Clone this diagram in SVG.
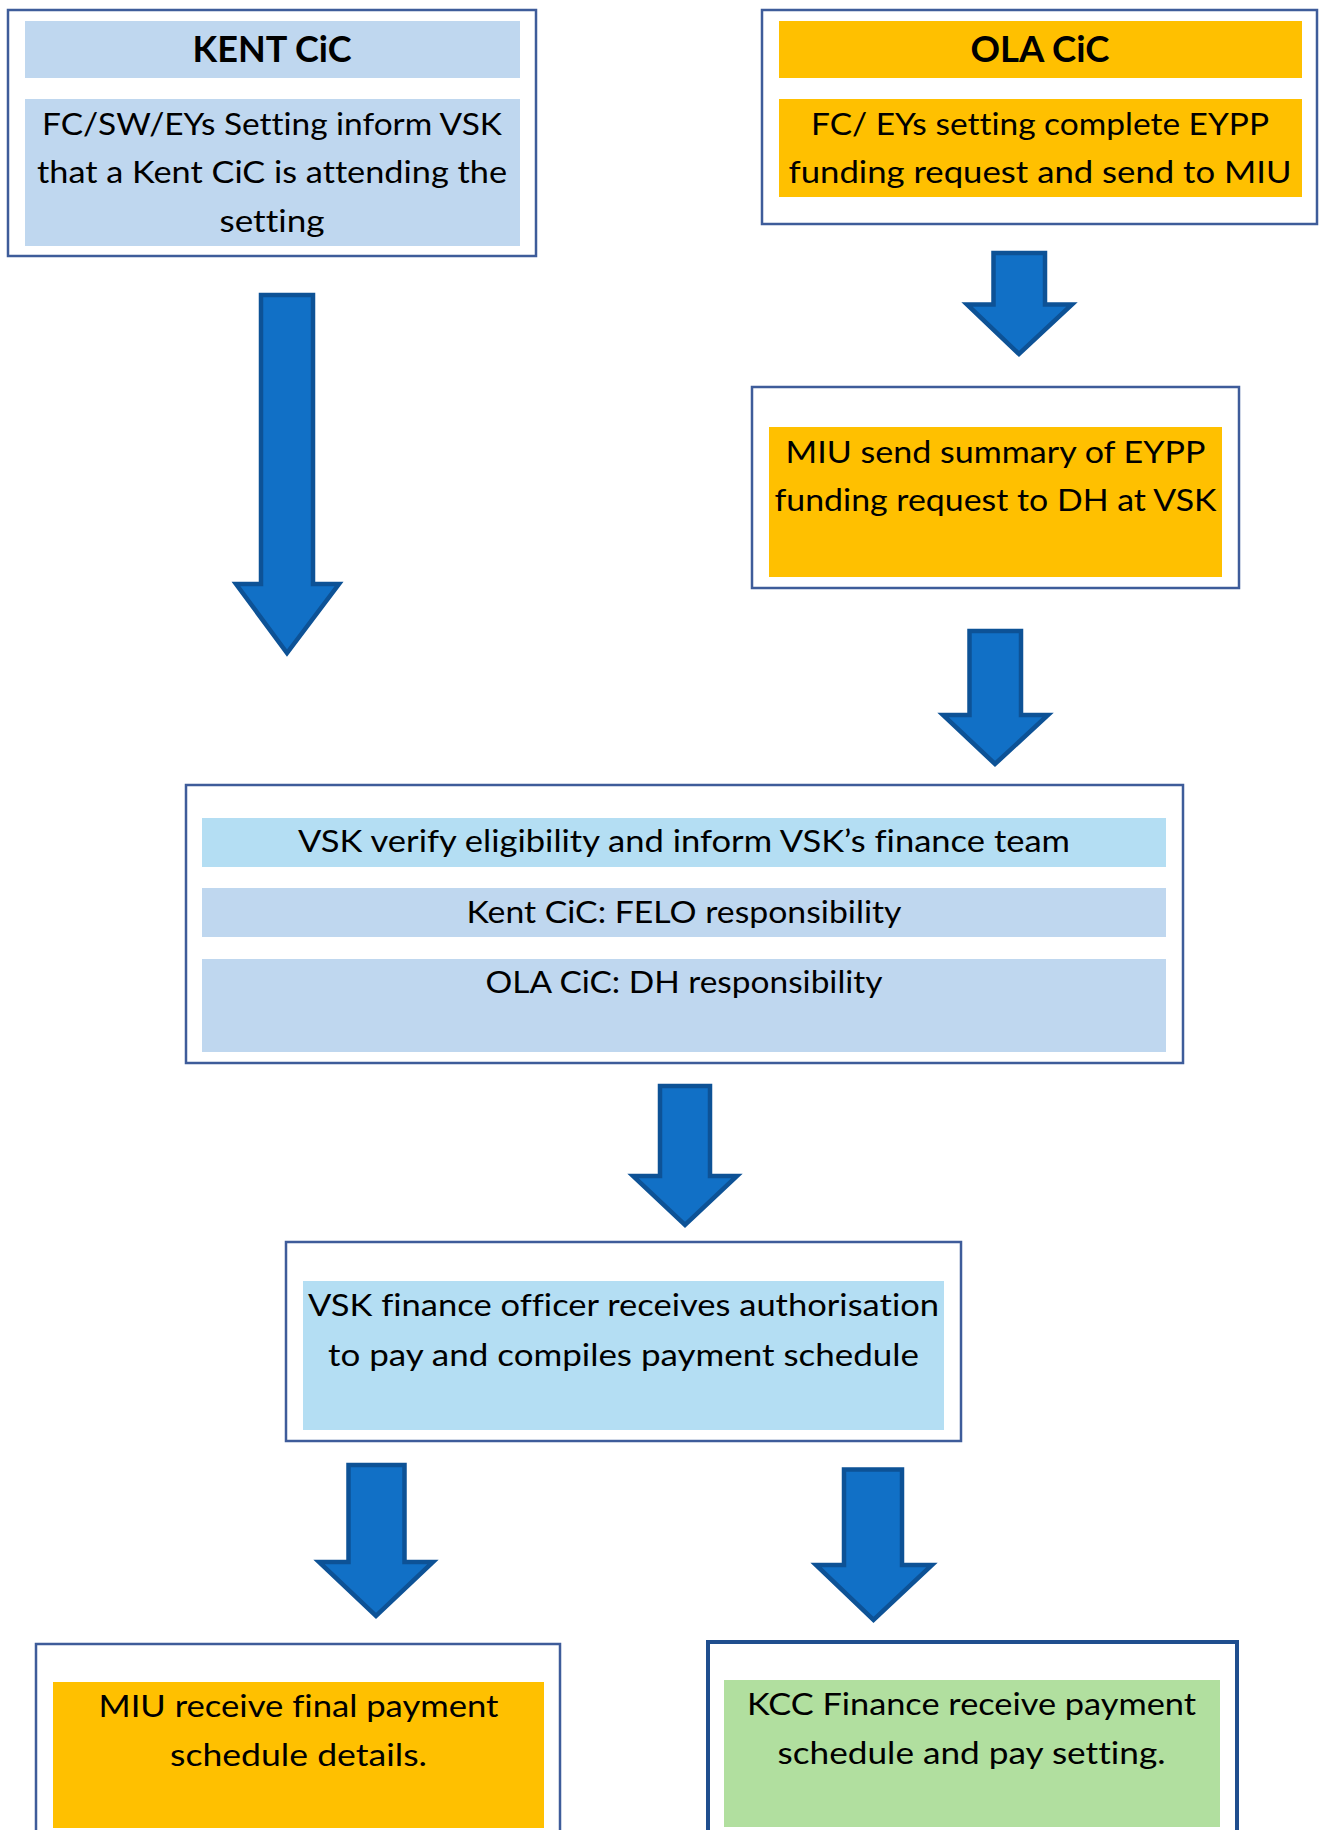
<svg xmlns="http://www.w3.org/2000/svg" width="1319" height="1830" viewBox="0 0 1319 1830">
<style>
.frame{fill:#ffffff;stroke:#3E5C9A;stroke-width:2.5}
.frame2{fill:#ffffff;stroke:#1F4E8E;stroke-width:4}
.blue{fill:#BFD7EF}
.cyan{fill:#B4DEF3}
.yellow{fill:#FFC000}
.green{fill:#B1DF9F}
.t{font-family:Lato,'Liberation Sans',sans-serif;font-size:30px;fill:#000;text-anchor:middle;font-variant-ligatures:none}
.h{font-family:Lato,'Liberation Sans',sans-serif;font-size:37px;font-weight:bold;fill:#000;text-anchor:middle}
.arrow{fill:#1170C6;stroke:#0D5296;stroke-width:4.5;stroke-linejoin:miter}
</style>
<rect width="1319" height="1830" fill="#ffffff"/>
<g id="kent">
<rect class="frame" x="8" y="10" width="528" height="246"/>
<rect class="blue" x="25" y="21" width="495" height="57"/>
<text class="h" x="272" y="62" textLength="159" lengthAdjust="spacingAndGlyphs">KENT CiC</text>
<rect class="blue" x="25" y="99" width="495" height="147"/>
<text class="t" x="272" y="135" textLength="460" lengthAdjust="spacingAndGlyphs">FC/SW/EYs Setting inform VSK</text>
<text class="t" x="272" y="183" textLength="470" lengthAdjust="spacingAndGlyphs">that a Kent CiC is attending the</text>
<text class="t" x="272" y="232" textLength="105" lengthAdjust="spacingAndGlyphs">setting</text>
</g>
<g id="ola">
<rect class="frame" x="762" y="10" width="555" height="214"/>
<rect class="yellow" x="779" y="21" width="523" height="57"/>
<text class="h" x="1040" y="62" textLength="139" lengthAdjust="spacingAndGlyphs">OLA CiC</text>
<rect class="yellow" x="779" y="99" width="523" height="98"/>
<text class="t" x="1040" y="135" textLength="458" lengthAdjust="spacingAndGlyphs">FC/ EYs setting complete EYPP</text>
<text class="t" x="1040" y="183" textLength="503" lengthAdjust="spacingAndGlyphs">funding request and send to MIU</text>
</g>
<g id="miu-summary">
<rect class="frame" x="752" y="387" width="487" height="201"/>
<rect class="yellow" x="769" y="427" width="453" height="150"/>
<text class="t" x="995.5" y="463" textLength="420" lengthAdjust="spacingAndGlyphs">MIU send summary of EYPP</text>
<text class="t" x="995.5" y="511" textLength="442" lengthAdjust="spacingAndGlyphs">funding request to DH at VSK</text>
</g>
<g id="vsk-verify">
<rect class="frame" x="186" y="785" width="997" height="278"/>
<rect class="cyan" x="202" y="818" width="964" height="49"/>
<text class="t" x="684" y="852" textLength="772" lengthAdjust="spacingAndGlyphs">VSK verify eligibility and inform VSK’s finance team</text>
<rect class="blue" x="202" y="888" width="964" height="49"/>
<text class="t" x="684" y="923" textLength="435" lengthAdjust="spacingAndGlyphs">Kent CiC: FELO responsibility</text>
<rect class="blue" x="202" y="959" width="964" height="93"/>
<text class="t" x="684" y="993" textLength="397" lengthAdjust="spacingAndGlyphs">OLA CiC: DH responsibility</text>
</g>
<g id="vsk-finance">
<rect class="frame" x="286" y="1242" width="675" height="199"/>
<rect class="cyan" x="303" y="1281" width="641" height="149"/>
<text class="t" x="623.5" y="1316" textLength="631" lengthAdjust="spacingAndGlyphs">VSK finance officer receives authorisation</text>
<text class="t" x="623.5" y="1366" textLength="591" lengthAdjust="spacingAndGlyphs">to pay and compiles payment schedule</text>
</g>
<g id="miu-final">
<rect class="frame" x="36" y="1644" width="524" height="200"/>
<rect class="yellow" x="53" y="1682" width="491" height="146"/>
<text class="t" x="298.5" y="1717" textLength="400" lengthAdjust="spacingAndGlyphs">MIU receive final payment</text>
<text class="t" x="298.5" y="1766" textLength="257" lengthAdjust="spacingAndGlyphs">schedule details.</text>
</g>
<g id="kcc-finance">
<rect class="frame2" x="708" y="1642" width="529" height="210"/>
<rect class="green" x="724" y="1680" width="496" height="147"/>
<text class="t" x="971.5" y="1715" textLength="449" lengthAdjust="spacingAndGlyphs">KCC Finance receive payment</text>
<text class="t" x="971.5" y="1764" textLength="388" lengthAdjust="spacingAndGlyphs">schedule and pay setting.</text>
</g>
<g id="connectors">
<polygon class="arrow" points="261,295 313,295 313,584 339,584 287,653 236,584 261,584"/>
<polygon class="arrow" points="993.5,253 1045,253 1045,304.5 1072,304.5 1019,354 967,304.5 993.5,304.5"/>
<polygon class="arrow" points="969.5,631 1021,631 1021,715 1048,715 995,764 943,715 969.5,715"/>
<polygon class="arrow" points="660,1086 710,1086 710,1176 737,1176 685,1225 633,1176 660,1176"/>
<polygon class="arrow" points="348.5,1465 404.5,1465 404.5,1562 433,1562 376,1616 319,1562 348.5,1562"/>
<polygon class="arrow" points="844,1469.5 902,1469.5 902,1565 932,1565 873.5,1620 816,1565 844,1565"/>
</g>
</svg>
